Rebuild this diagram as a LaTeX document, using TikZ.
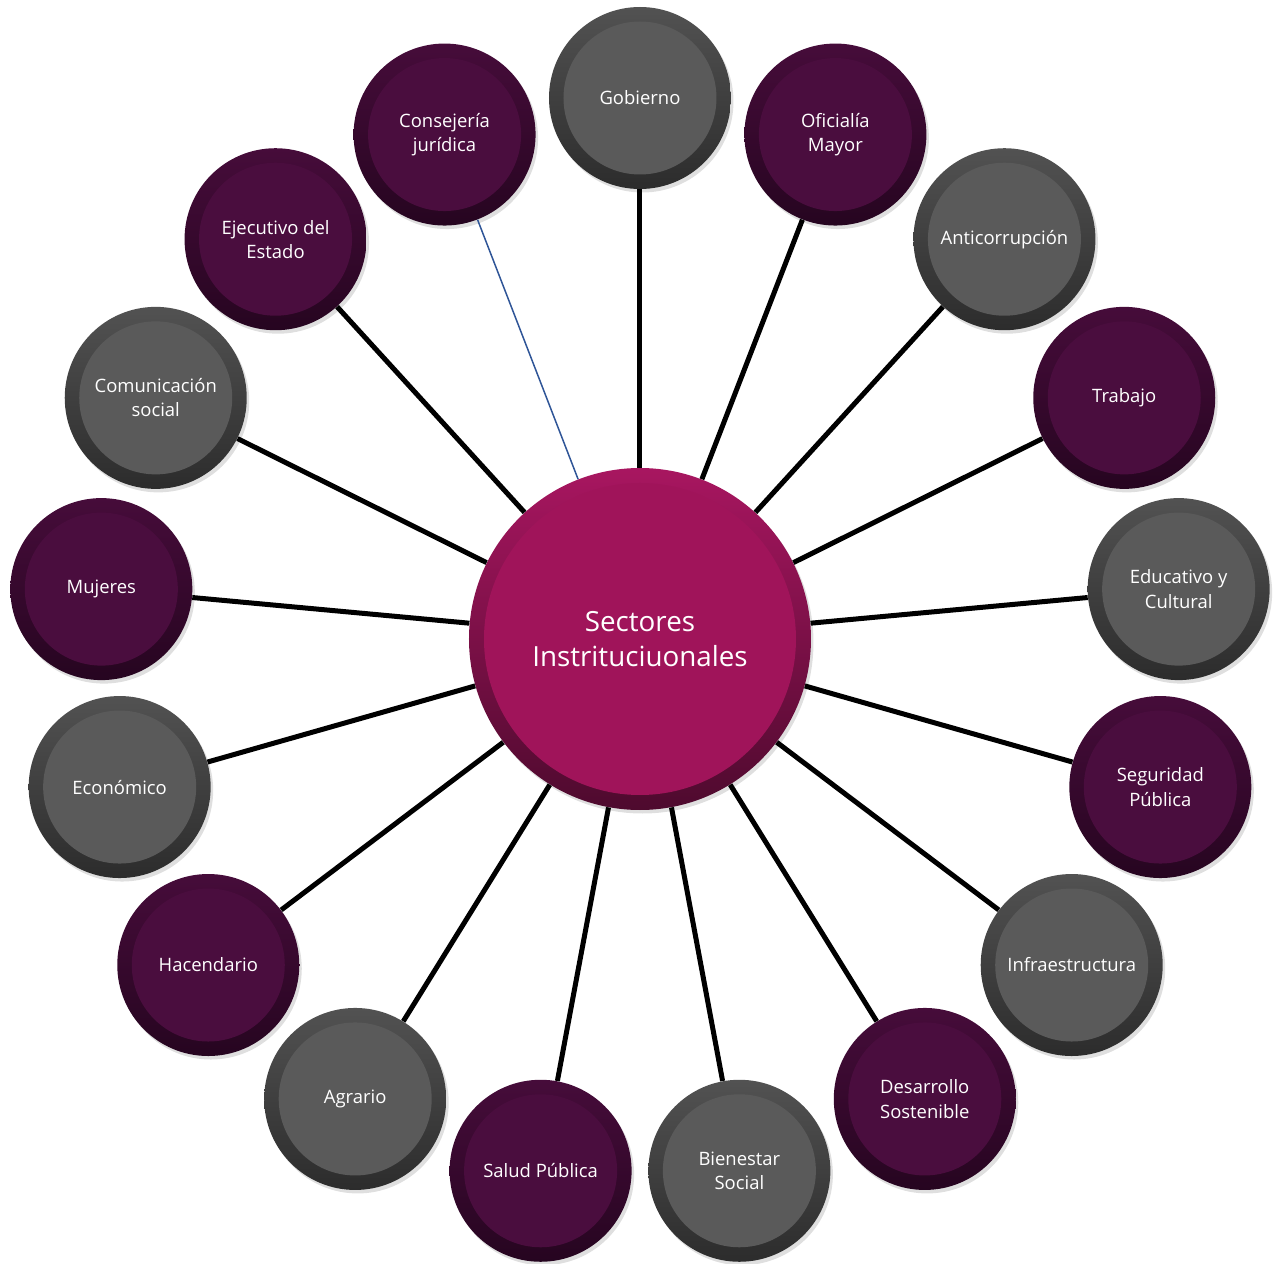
\documentclass[tikz,border=0pt]{standalone}
\usepackage{fontspec}
\setmainfont{Open Sans}
\usetikzlibrary{calc,shadows}

\definecolor{hubin}{RGB}{160,20,90}
\definecolor{hubtop}{RGB}{168,22,96}
\definecolor{hubbot}{RGB}{78,10,46}
\definecolor{purin}{RGB}{74,13,62}
\definecolor{purtop}{RGB}{70,12,58}
\definecolor{purbot}{RGB}{38,5,32}
\definecolor{greyin}{RGB}{90,90,90}
\definecolor{greytop}{RGB}{82,82,82}
\definecolor{greybot}{RGB}{44,44,44}
\definecolor{linkblue}{RGB}{47,85,151}

\tikzset{
  bub/.style={circle, inner sep=0pt, align=center, text=white,
    shading angle=45,
    drop shadow={shadow xshift=0.05cm, shadow yshift=-0.07cm, opacity=0.25}},
  greybub/.style={bub, minimum size=3.64cm, top color=greytop, bottom color=greybot,
    font=\fontsize{10.5}{13.8}\selectfont,
    path picture={\fill[greyin] (path picture bounding box.center) circle (1.53cm);}},
  purbub/.style={bub, minimum size=3.64cm, top color=purtop, bottom color=purbot,
    font=\fontsize{10.5}{13.8}\selectfont,
    path picture={\fill[purin] (path picture bounding box.center) circle (1.53cm);}},
  hubbub/.style={bub, minimum size=6.84cm, top color=hubtop, bottom color=hubbot,
    font=\fontsize{15.8}{20}\selectfont,
    path picture={\fill[hubin] (path picture bounding box.center) circle (3.12cm);}},
  spoke/.style={black, line width=0.1cm},
}

\begin{document}
\begin{tikzpicture}
\def\r{10.82}
\useasboundingbox (-12.8,-12.5) rectangle (12.82,12.78);

% hub
\node[hubbub] (hub) at (0,0) {Sectores\\Instrituciuonales};

% sectors, clockwise from the top
\node[greybub] (gob) at (90:\r) {Gobierno};
\node[purbub] (ofi) at (68.824:\r) {Oficialía\\Mayor};
\node[greybub] (anti) at (47.647:\r) {Anticorrupción};
\node[purbub] (trab) at (26.471:\r) {Trabajo};
\node[greybub] (edu) at (5.294:\r) {Educativo y\\Cultural};
\node[purbub] (seg) at (-15.882:\r) {Seguridad\\Pública};
\node[greybub] (infra) at (-37.059:\r) {Infraestructura};
\node[purbub] (des) at (-58.235:\r) {Desarrollo\\Sostenible};
\node[greybub] (bien) at (-79.412:\r) {Bienestar\\Social};
\node[purbub] (salud) at (-100.588:\r) {Salud Pública};
\node[greybub] (agr) at (-121.765:\r) {Agrario};
\node[purbub] (hac) at (-142.941:\r) {Hacendario};
\node[greybub] (eco) at (-164.118:\r) {Económico};
\node[purbub] (muj) at (174.706:\r) {Mujeres};
\node[greybub] (com) at (153.529:\r) {Comunicación\\social};
\node[purbub] (ejec) at (132.353:\r) {Ejecutivo del\\Estado};
\node[purbub] (cons) at (111.176:\r) {Consejería\\jurídica};

% spokes
\draw[spoke] (hub) -- (gob);
\draw[spoke] (hub) -- (ofi);
\draw[spoke] (hub) -- (anti);
\draw[spoke] (hub) -- (trab);
\draw[spoke] (hub) -- (edu);
\draw[spoke] (hub) -- (seg);
\draw[spoke] (hub) -- (infra);
\draw[spoke] (hub) -- (des);
\draw[spoke] (hub) -- (bien);
\draw[spoke] (hub) -- (salud);
\draw[spoke] (hub) -- (agr);
\draw[spoke] (hub) -- (hac);
\draw[spoke] (hub) -- (eco);
\draw[spoke] (hub) -- (muj);
\draw[spoke] (hub) -- (com);
\draw[spoke] (hub) -- (ejec);
\draw[linkblue, line width=0.03cm] (hub) -- (cons);
\end{tikzpicture}
\end{document}
